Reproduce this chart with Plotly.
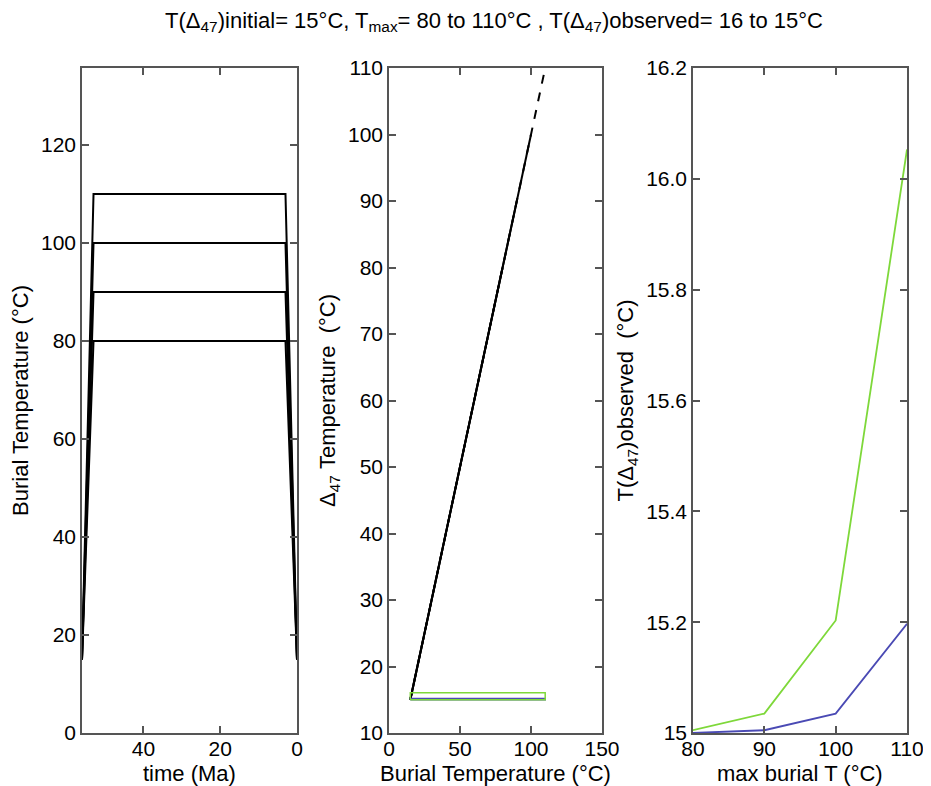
import plotly.graph_objects as go
from plotly.subplots import make_subplots

# ── Data ────────────────────────────────────────────────────────────────────
T_INITIAL = 15
T_MAX = [80, 90, 100, 110]

# burial history: time (Ma) and temperature for each Tmax
HIST_TIME = [56, 53, 3, 0]

# panel 2: Δ47 temperature path during burial (blue = equilibrium, green = observed)
GREEN_BURIAL = [15, 110, 110, 15, 15]
GREEN_D47 = [15, 15, 16.05, 16.05, 15]
BLUE_BURIAL = [15, 110, 110, 15, 15]
BLUE_D47 = [15, 15, 15.2, 15.2, 15]

# panel 3: observed T(Δ47) vs max burial T
MAX_BURIAL = [80, 90, 100, 110]
OBS_GREEN = [15.005, 15.035, 15.203, 16.053]
OBS_BLUE = [15.0, 15.005, 15.035, 15.197]

Y3_TICKS = [15, 15.2, 15.4, 15.6, 15.8, 16.0, 16.2]
Y3_TEXT = ["15", "15.2", "15.4", "15.6", "15.8", "16.0", "16.2"]

X_TITLES = ["time (Ma)", "Burial Temperature (°C)", "max burial T (°C)"]

# ── Style ───────────────────────────────────────────────────────────────────
GREEN = "#7ED83A"
BLUE = "#4A4AB4"
AXIS_COLOR = "#555555"
FONT = "Liberation Sans, Arial, sans-serif"
W, H = 931, 786
OFF = 8  # page body margin


def px_x(a, b):
    return [(a - OFF) / W, (b - OFF) / W]


def px_y(top, bottom):
    return [1 - (bottom - OFF) / H, 1 - (top - OFF) / H]


fig = make_subplots(rows=1, cols=3)

for t in T_MAX:
    fig.add_trace(go.Scatter(
        x=HIST_TIME, y=[T_INITIAL, t, t, T_INITIAL], mode="lines",
        line=dict(color="black", width=2), showlegend=False,
    ), row=1, col=1)

for t in T_MAX:
    fig.add_trace(go.Scatter(
        x=[T_INITIAL, t], y=[T_INITIAL, t], mode="lines",
        line=dict(color="black", width=2, dash="dash" if t == 110 else "solid"),
        showlegend=False,
    ), row=1, col=2)

fig.add_trace(go.Scatter(x=BLUE_BURIAL, y=BLUE_D47, mode="lines",
                         line=dict(color=BLUE, width=1.5), showlegend=False), row=1, col=2)
fig.add_trace(go.Scatter(x=GREEN_BURIAL, y=GREEN_D47, mode="lines",
                         line=dict(color=GREEN, width=1.5), showlegend=False), row=1, col=2)

fig.add_trace(go.Scatter(x=MAX_BURIAL, y=OBS_GREEN, mode="lines",
                         line=dict(color=GREEN, width=1.8), showlegend=False), row=1, col=3)
fig.add_trace(go.Scatter(x=MAX_BURIAL, y=OBS_BLUE, mode="lines",
                         line=dict(color=BLUE, width=1.8), showlegend=False), row=1, col=3)

axis_common = dict(
    showline=True, linecolor=AXIS_COLOR, linewidth=1.5, mirror="ticks",
    ticks="inside", ticklen=7, tickcolor=AXIS_COLOR, tickwidth=1.5,
    showgrid=False, zeroline=False, automargin=False,
)

x_axis = dict(axis_common, tickfont=dict(size=21, color="black", family=FONT),
              ticklabelstandoff=-4)
y_axis = dict(axis_common,
              tickfont=dict(size=21, color="black", family=FONT),
              title_font=dict(size=22, color="black", family=FONT),
              title_standoff=6)

Y_DOMAIN = px_y(68, 733)
X_DOMAINS = [px_x(82, 297), px_x(389, 602), px_x(693, 907)]

fig.update_xaxes(x_axis)
fig.update_yaxes(y_axis)

fig.update_layout(
    xaxis=dict(domain=X_DOMAINS[0], range=[56, 0], tickvals=[40, 20, 0]),
    yaxis=dict(domain=Y_DOMAIN, range=[0, 135.7], tickvals=[0, 20, 40, 60, 80, 100, 120],
               title_text="Burial Temperature (°C)"),
    xaxis2=dict(domain=X_DOMAINS[1], range=[0, 150], tickvals=[0, 50, 100, 150]),
    yaxis2=dict(domain=Y_DOMAIN, range=[10, 110], dtick=10,
                title_text="Δ<sub>47</sub> Temperature  (°C)"),
    xaxis3=dict(domain=X_DOMAINS[2], range=[80, 110], tickvals=[80, 90, 100, 110]),
    yaxis3=dict(domain=Y_DOMAIN, range=[15, 16.2], tickvals=Y3_TICKS, ticktext=Y3_TEXT,
                title_text="T(Δ<sub>47</sub>)observed  (°C)"),
    title=dict(
        text="T(Δ<sub>47</sub>)initial= 15°C, T<sub>max</sub>= 80 to 110°C , "
             "T(Δ<sub>47</sub>)observed= 16 to 15°C",
        x=(494 - OFF) / W, xanchor="center", y=1 - (20 - OFF) / H, yanchor="middle",
        font=dict(size=22, color="black", family=FONT),
    ),
    width=W, height=H,
    margin=dict(l=0, r=0, t=0, b=0),
    paper_bgcolor="white", plot_bgcolor="white",
    font=dict(family=FONT, color="black"),
)

# x-axis titles as annotations so they sit tight under the tick labels
for dom, text in zip(X_DOMAINS, X_TITLES):
    fig.add_annotation(
        text=text, xref="paper", yref="paper",
        x=(dom[0] + dom[1]) / 2, y=1 - (773 - OFF) / H,
        xanchor="center", yanchor="middle", showarrow=False,
        font=dict(size=22, color="black", family=FONT),
    )

fig.write_html("out.html")
